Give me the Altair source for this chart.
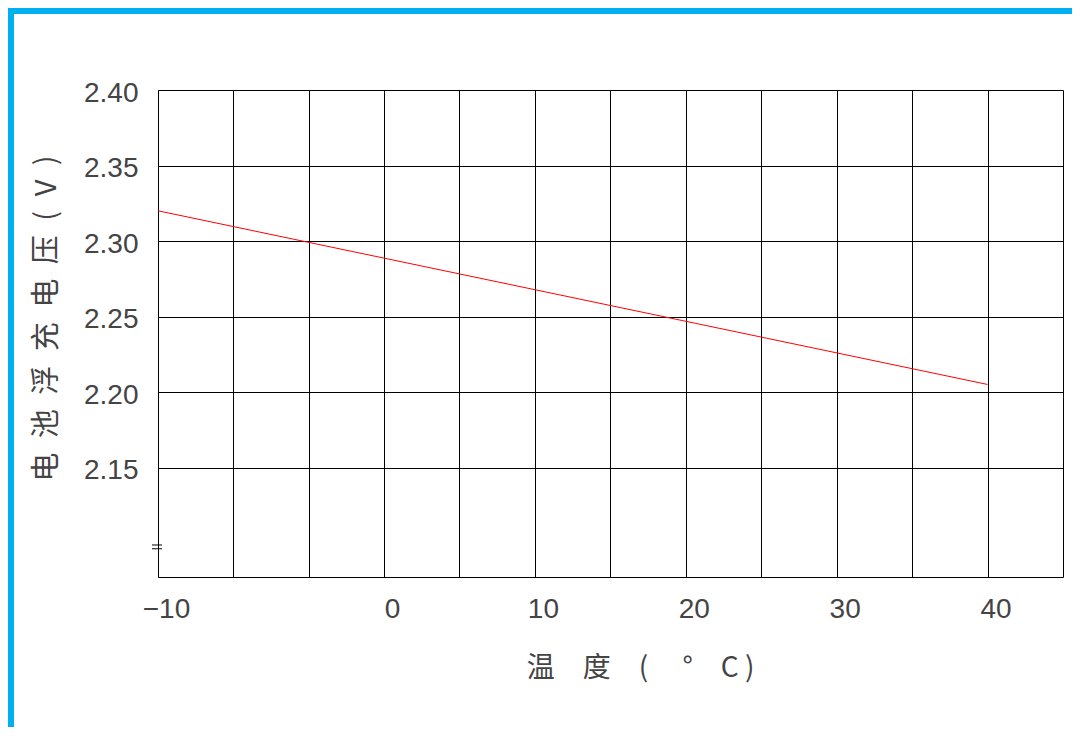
import altair as alt
import pandas as pd

# ---- data ----
temps = [-10, 40]            # 温度 (°C)
volts = [2.32, 2.205]        # 电池浮充电压 (V)

x_grid = [-10, -6.667, -3.333, 0, 5, 10, 15, 20, 25, 30, 35, 40, 45]
x_labels = [-10, 0, 10, 20, 30, 40]
y_grid = [2.15, 2.20, 2.25, 2.30, 2.35, 2.40]
break_marks = [2.0987, 2.0962]

df = pd.DataFrame({"temp": temps, "volt": volts})
brk = pd.DataFrame({"y": break_marks})
one = pd.DataFrame({"a": [0]})

num_font = "Liberation Sans"
cjk_font = "Noto Sans CJK SC"

x_scale = alt.Scale(domain=[-10, 0, 45], range=[0, 226, 905], zero=False, nice=False)
y_scale = alt.Scale(domain=[2.0775, 2.40], zero=False, nice=False)

label_list = ",".join(str(v) for v in x_labels)

x_axis = alt.Axis(
    values=x_grid,
    grid=True,
    ticks=False,
    labelExpr=f"indexof([{label_list}], datum.value) >= 0 ? format(datum.value, 'd') : ''",
    labelFont=num_font,
    labelFontSize=28,
    labelColor="#444444",
    labelBaseline="top",
    labelPadding=18,
    labelOffset=8,
    labelFlush=False,
    labelOverlap=False,
    title="温　度　(　 °　C )",
    titleFont=cjk_font,
    titleFontSize=28,
    titleFontWeight="normal",
    titleColor="#444444",
    titleBaseline="middle",
    titleX=482,
    titleY=91,
)

y_axis = alt.Axis(
    values=y_grid,
    grid=True,
    ticks=False,
    format=".2f",
    labelFont=num_font,
    labelFontSize=28,
    labelColor="#444444",
    labelPadding=20,
    labelOffset=3,
    labelFlush=False,
    labelOverlap=False,
    title="电\u2002池\u2002浮\u2002充\u2002电\u2002压\u2002(\u2002V\u2002)",
    titleFont=cjk_font,
    titleFontSize=29,
    titleFontWeight="normal",
    titleColor="#444444",
    titleBaseline="middle",
    titleX=-112,
    titleY=228,
)

line = alt.Chart(df).mark_line(color="#ff0000", strokeWidth=1).encode(
    x=alt.X("temp:Q", scale=x_scale, axis=x_axis),
    y=alt.Y("volt:Q", scale=y_scale, axis=y_axis),
)

brk_layer = alt.Chart(brk).mark_rule(color="black", strokeWidth=1).encode(
    y=alt.Y("y:Q", scale=y_scale),
    x=alt.value(-6),
    x2=alt.value(4),
)

blue_left = alt.Chart(one).mark_rect(color="#00b0f0").encode(
    x=alt.value(-150), x2=alt.value(-144), y=alt.value(-82), y2=alt.value(637)
)
blue_top = alt.Chart(one).mark_rect(color="#00b0f0").encode(
    x=alt.value(-150), x2=alt.value(914), y=alt.value(-82), y2=alt.value(-76)
)

chart = (
    alt.layer(line, brk_layer, blue_left, blue_top)
    .properties(
        width=905,
        height=487,
        autosize=alt.AutoSizeParams(type="none"),
        padding={"left": 150, "top": 82, "right": 9, "bottom": 150},
        background="white",
    )
    .configure_view(stroke=None)
    .configure_axis(
        domainColor="black",
        domainWidth=1,
        gridColor="black",
        gridOpacity=1,
        gridWidth=1,
    )
)

chart.save("out.html", embed_options={"renderer": "svg", "actions": False})
